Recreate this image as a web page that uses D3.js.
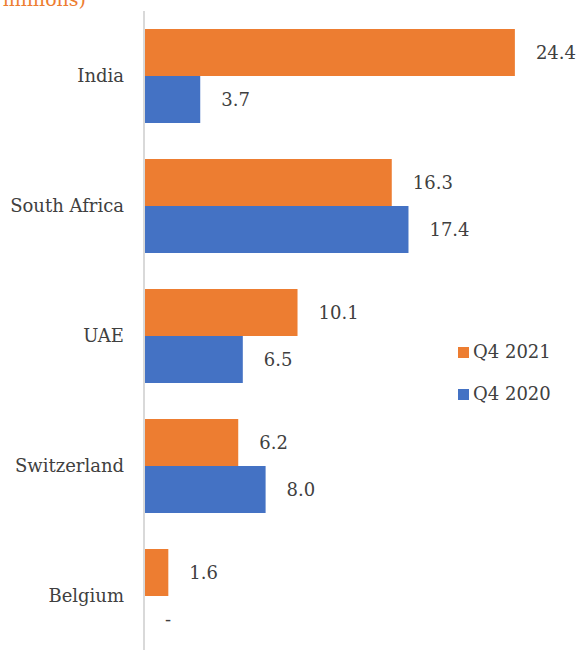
<!DOCTYPE html>
<html>
<head>
<meta charset="utf-8">
<script src="https://cdn.jsdelivr.net/npm/d3@7"></script>
<style>
  body { margin: 0; background: #fff; }
  svg { display: block; }
</style>
</head>
<body>
<div id="chart"></div>
<script>
var categories = ["India", "South Africa", "UAE", "Switzerland", "Belgium"];
var seriesNames = ["Q4 2021", "Q4 2020"];
var q42021 = [24.4, 16.3, 10.1, 6.2, 1.6];
var q42020 = [3.7, 17.4, 6.5, 8.0, null];
var colors = ["#ED7D31", "#4472C4"];

function init(){
    var w = 579;
    var h = 653;
    var font = "'DejaVu Serif', serif";

    var svg = d3.select("#chart")
        .append("svg")
        .attr("width", w)
        .attr("height", h);

    var yScale = d3.scaleBand()
        .domain(categories)
        .range([11, 661])
        .paddingInner(0.277)
        .paddingOuter(0.1385);

    var subScale = d3.scaleBand()
        .domain(seriesNames)
        .range([0, yScale.bandwidth()]);

    var xScale = d3.scaleLinear()
        .domain([0, 30])
        .range([144, 600]);

    var rows = [];
    categories.forEach(function(c, i){
        rows.push({cat: c, series: seriesNames[0], value: q42021[i], color: colors[0]});
        rows.push({cat: c, series: seriesNames[1], value: q42020[i], color: colors[1]});
    });

    // title, mostly cut off at the top
    svg.append("text")
        .attr("x", 86)
        .attr("y", 6)
        .attr("text-anchor", "end")
        .attr("font-family", font)
        .attr("font-size", 19)
        .attr("fill", "#ED7D31")
        .text("(USD millions)");

    svg.selectAll("rect.bar")
        .data(rows.filter(function(d){ return d.value != null; }))
        .enter()
        .append("rect")
        .attr("class", "bar")
        .attr("x", xScale(0))
        .attr("y", function(d){ return yScale(d.cat) + subScale(d.series); })
        .attr("width", function(d){ return xScale(d.value) - xScale(0); })
        .attr("height", subScale.bandwidth())
        .attr("fill", function(d){ return d.color; });

    svg.selectAll("text.val")
        .data(rows)
        .enter()
        .append("text")
        .attr("class", "val")
        .attr("x", function(d){ return xScale(d.value || 0) + 21; })
        .attr("y", function(d){ return yScale(d.cat) + subScale(d.series) + subScale.bandwidth() / 2; })
        .attr("dy", "0.35em")
        .attr("font-family", font)
        .attr("font-size", 18)
        .attr("fill", "#404040")
        .text(function(d){ return d.value == null ? "-" : d.value.toFixed(1); });

    var yAxis = d3.axisLeft(yScale).tickSize(0).tickPadding(20);
    var gy = svg.append("g")
        .attr("transform", "translate(" + xScale(0) + ",0)")
        .call(yAxis);
    gy.select(".domain")
        .attr("stroke", "#d9d9d9")
        .attr("stroke-width", 2)
        .attr("d", "M0,11V650");
    gy.selectAll("text")
        .attr("font-family", font)
        .attr("font-size", 18)
        .attr("fill", "#404040");

    var legend = svg.selectAll("g.leg")
        .data(seriesNames)
        .enter()
        .append("g")
        .attr("class", "leg")
        .attr("transform", function(d, i){ return "translate(458," + (352 + i * 42) + ")"; });
    legend.append("rect")
        .attr("x", 0)
        .attr("y", -5)
        .attr("width", 11)
        .attr("height", 11)
        .attr("fill", function(d, i){ return colors[i]; });
    legend.append("text")
        .attr("x", 15)
        .attr("y", 0)
        .attr("dy", "0.35em")
        .attr("font-family", font)
        .attr("font-size", 18)
        .attr("fill", "#404040")
        .text(function(d){ return d; });
}
window.onload = init;
</script>
</body>
</html>
